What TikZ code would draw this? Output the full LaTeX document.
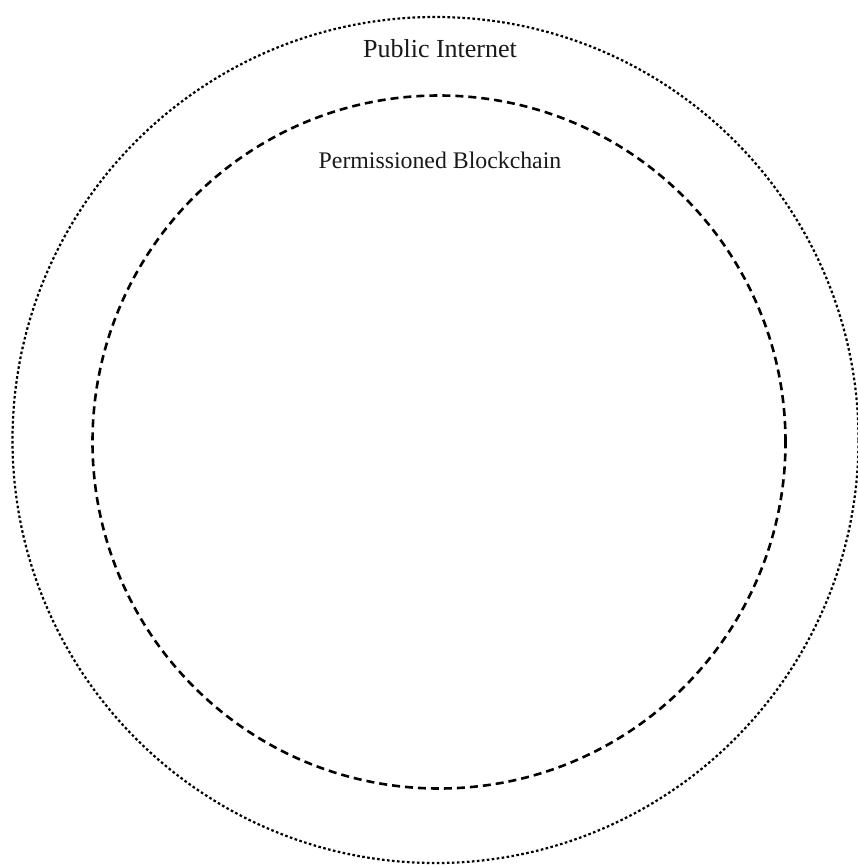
\documentclass[tikz,border=0pt]{standalone}
\usepackage{fontspec}
\setmainfont{Liberation Serif}
\begin{document}
\begin{tikzpicture}[x=1pt,y=-1pt,
  ring/.style={circle, draw=black, inner sep=0pt},
  outerring/.style={ring, line width=2.2pt, dash pattern=on 2.6pt off 2.4pt},
  innerring/.style={ring, line width=2.6pt, dash pattern=on 8pt off 5pt},
  lbl/.style={inner sep=0pt, text=black!90}]
\useasboundingbox (0,0) rectangle (858,865);
\node[outerring, minimum size=846pt] (outer) at (435.5,440) {};
\node[innerring, minimum size=693pt] (inner) at (439,442) {};
\node[lbl, font=\fontsize{26}{30}\selectfont, anchor=base] (pub) at (440,57) {Public Internet};
\node[lbl, font=\fontsize{23.8}{28}\selectfont, anchor=base] (perm) at (440,168) {Permissioned Blockchain};
\end{tikzpicture}
\end{document}
